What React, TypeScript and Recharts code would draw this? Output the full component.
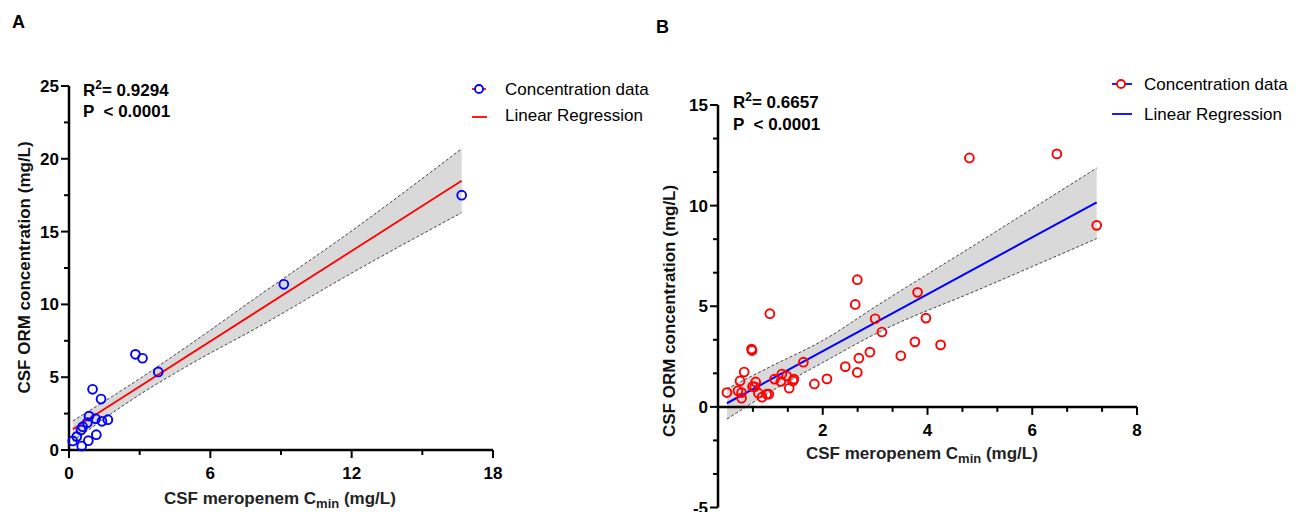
import React from 'react';
import { ComposedChart, XAxis, YAxis, Scatter, Line, Area, ReferenceLine } from 'recharts';

const FONT = '"Liberation Sans", Arial, Helvetica, sans-serif';

// ---------- Panel A data ----------
const aX = [0.16, 0.33, 0.54, 0.51, 0.58, 0.78, 0.85, 0.82, 1.0, 1.13, 1.16, 1.36, 1.4, 1.65, 2.82, 3.12, 3.79, 9.12, 16.67];
const aY = [0.62, 0.92, 0.27, 1.37, 1.6, 1.88, 2.33, 0.64, 4.17, 2.15, 1.05, 3.5, 1.97, 2.08, 6.57, 6.3, 5.36, 11.38, 17.5];
const aFitX = [0.16, 16.67];
const aFitY = [1.42, 18.5];
const aBandX = [0.16, 3, 5, 8.1, 12, 16.67];
const aBandLo = [0.6, 3.8, 5.75, 8.5, 12.15, 16.3];
const aBandHi = [2.0, 4.9, 7.1, 10.65, 15.05, 20.7];
const aXTicks = [0, 3, 6, 9, 12, 15, 18];
const aYTicks = [0, 2.5, 5, 7.5, 10, 12.5, 15, 17.5, 20, 22.5, 25];

// ---------- Panel B data ----------
const bX = [0.17, 0.38, 0.42, 0.45, 0.45, 0.5, 0.64, 0.65, 0.66, 0.72, 0.7, 0.77, 0.84, 0.93, 0.97, 0.99, 1.08, 1.22, 1.2, 1.31, 1.36, 1.43, 1.45, 1.63, 1.84, 2.08, 2.43, 2.62, 2.66, 2.66, 2.69, 2.9, 3.0, 3.13, 3.49, 3.81, 3.76, 3.97, 4.25, 4.8, 6.47, 7.23];
const bY = [0.71, 0.8, 1.29, 0.71, 0.43, 1.73, 2.87, 2.8, 1.01, 1.24, 1.0, 0.68, 0.48, 0.63, 0.63, 4.63, 1.38, 1.63, 1.26, 1.54, 0.93, 1.29, 1.38, 2.22, 1.14, 1.39, 2.0, 5.09, 6.32, 1.71, 2.42, 2.72, 4.38, 3.72, 2.54, 5.69, 3.23, 4.41, 3.08, 12.37, 12.57, 9.02];
const bFitX = [0.17, 7.23];
const bFitY = [0.18, 10.16];
const bBandX = [0.17, 1, 2, 3.06, 5, 6, 7.23];
const bBandLo = [-0.61, 0.75, 2.2, 3.7, 5.85, 6.97, 8.36];
const bBandHi = [0.9, 2.0, 3.3, 5.07, 8.21, 9.85, 11.87];
const bXTicks = [2 / 3, 4 / 3, 2, 8 / 3, 10 / 3, 4, 14 / 3, 16 / 3, 6, 20 / 3, 22 / 3, 8];
const bYTicks = [-5, -10 / 3, -5 / 3, 0, 5 / 3, 10 / 3, 5, 20 / 3, 25 / 3, 10, 35 / 3, 40 / 3, 15];

const pts = (xs: number[], ys: number[]) => xs.map((x, i) => ({ x, y: ys[i] }));
const band = (xs: number[], lo: number[], hi: number[]) =>
  xs.map((x, i) => ({ x, lo: lo[i], hi: hi[i], range: [lo[i], hi[i]] }));

const aPts = pts(aX, aY);
const aFit = pts(aFitX, aFitY);
const aBand = band(aBandX, aBandLo, aBandHi);
const bPts = pts(bX, bY);
const bFit = pts(bFitX, bFitY);
const bBand = band(bBandX, bBandLo, bBandHi);

const isMult = (v: number, m: number) => Math.abs(v / m - Math.round(v / m)) < 1e-6;

const makeYTick = (m: number) => (props: any) => {
  const { x, y, payload } = props;
  const v = payload.value;
  const major = isMult(v, m);
  return (
    <g>
      <line x1={x - (major ? 8 : 5)} x2={x} y1={y} y2={y} stroke="#000" strokeWidth={2} />
      {major && (
        <text x={x - 10} y={y} dy={6} textAnchor="end" fontFamily={FONT} fontWeight="bold" fontSize={17} fill="#000">
          {Math.round(v)}
        </text>
      )}
    </g>
  );
};

const makeXTick = (m: number, shift: number) => (props: any) => {
  const { x, payload } = props;
  const y = props.y - shift;
  const v = payload.value;
  const major = isMult(v, m);
  return (
    <g>
      <line x1={x} x2={x} y1={y} y2={y + (major ? 8 : 5)} stroke="#000" strokeWidth={2} />
      {major && (
        <text x={x} y={y + 29} textAnchor="middle" fontFamily={FONT} fontWeight="bold" fontSize={17} fill="#000">
          {Math.round(v)}
        </text>
      )}
    </g>
  );
};

const circle = (color: string) => (props: any) => (
  <circle cx={props.cx} cy={props.cy} r={4.4} fill="none" stroke={color} strokeWidth={1.9} />
);

// Layout of panel B (to draw the x axis at y = 0)
const B_TOP = 105;
const B_H = 512;
const B_BOTTOM_MARGIN = 3.5;
const B_XAXIS_H = 1;
const B_PLOT_H = B_H - B_TOP - B_BOTTOM_MARGIN - B_XAXIS_H;
const B_SHIFT = ((0 - -5) / (15 - -5)) * B_PLOT_H;

export default function App() {
  return (
    <div style={{ position: 'absolute', left: 0, top: 0, width: 1299, height: 512, overflow: 'hidden', background: '#fff' }}>
      {/* Panel A */}
      <div style={{ position: 'absolute', left: 0, top: 0 }}>
        <ComposedChart width={525} height={512} margin={{ top: 86, right: 32, bottom: 32, left: 29 }}>
          <XAxis
            type="number"
            dataKey="x"
            domain={[0, 18]}
            ticks={aXTicks}
            interval={0}
            height={30}
            tickSize={0}
            tickMargin={0}
            tickLine={false}
            axisLine={{ stroke: '#000', strokeWidth: 2.5 }}
            tick={makeXTick(6, 0)}
          />
          <YAxis
            type="number"
            domain={[0, 25]}
            ticks={aYTicks}
            interval={0}
            width={40}
            tickSize={0}
            tickMargin={0}
            tickLine={false}
            axisLine={{ stroke: '#000', strokeWidth: 2.5 }}
            tick={makeYTick(5)}
          />
          <Area data={aBand} dataKey="range" type="monotone" stroke="none" fill="#d9d9d9" fillOpacity={1} isAnimationActive={false} />
          <Line data={aBand} dataKey="hi" type="monotone" stroke="#333" strokeWidth={0.9} strokeDasharray="3 2" dot={false} isAnimationActive={false} />
          <Line data={aBand} dataKey="lo" type="monotone" stroke="#333" strokeWidth={0.9} strokeDasharray="3 2" dot={false} isAnimationActive={false} />
          <Line data={aFit} dataKey="y" type="linear" stroke="#ff0000" strokeWidth={1.8} dot={false} isAnimationActive={false} />
          <Scatter data={aPts} dataKey="y" shape={circle('#0000ff')} isAnimationActive={false} />
        </ComposedChart>
      </div>

      {/* Panel B */}
      <div style={{ position: 'absolute', left: 640, top: 0 }}>
        <ComposedChart width={510} height={B_H} margin={{ top: B_TOP, right: 13, bottom: B_BOTTOM_MARGIN, left: 38 }}>
          <XAxis
            type="number"
            dataKey="x"
            domain={[0, 8]}
            ticks={bXTicks}
            interval={0}
            height={B_XAXIS_H}
            tickSize={0}
            tickMargin={0}
            tickLine={false}
            axisLine={false}
            tick={makeXTick(2, B_SHIFT)}
          />
          <YAxis
            type="number"
            domain={[-5, 15]}
            ticks={bYTicks}
            interval={0}
            width={40}
            tickSize={0}
            tickMargin={0}
            tickLine={false}
            axisLine={{ stroke: '#000', strokeWidth: 2.5 }}
            tick={makeYTick(5)}
          />
          <Area data={bBand} dataKey="range" type="monotone" stroke="none" fill="#d9d9d9" fillOpacity={1} isAnimationActive={false} />
          <Line data={bBand} dataKey="hi" type="monotone" stroke="#333" strokeWidth={0.9} strokeDasharray="3 2" dot={false} isAnimationActive={false} />
          <Line data={bBand} dataKey="lo" type="monotone" stroke="#333" strokeWidth={0.9} strokeDasharray="3 2" dot={false} isAnimationActive={false} />
          <ReferenceLine y={0} stroke="#000" strokeWidth={2.5} ifOverflow="visible" />
          <Line data={bFit} dataKey="y" type="linear" stroke="#0000ff" strokeWidth={2} dot={false} isAnimationActive={false} />
          <Scatter data={bPts} dataKey="y" shape={circle('#ff0000')} isAnimationActive={false} />
        </ComposedChart>
      </div>

      {/* Text overlay */}
      <svg width={1299} height={512} style={{ position: 'absolute', left: 0, top: 0, pointerEvents: 'none' }} fontFamily={FONT}>
        <text x={12} y={28} fontWeight="bold" fontSize={18}>A</text>
        <text x={656} y={33} fontWeight="bold" fontSize={18}>B</text>

        {/* annotations */}
        <text x={83} y={96} fontWeight="bold" fontSize={17}>
          R<tspan dy={-7} fontSize={12}>2</tspan><tspan dy={7}>= 0.9294</tspan>
        </text>
        <text x={83} y={117} fontWeight="bold" fontSize={17} style={{ whiteSpace: 'pre' }}>P  {'<'} 0.0001</text>
        <text x={733} y={108} fontWeight="bold" fontSize={17}>
          R<tspan dy={-7} fontSize={12}>2</tspan><tspan dy={7}>= 0.6657</tspan>
        </text>
        <text x={733} y={130} fontWeight="bold" fontSize={17} style={{ whiteSpace: 'pre' }}>P  {'<'} 0.0001</text>

        {/* axis titles */}
        <text transform="translate(29.5,393.5) rotate(-90)" fontWeight="bold" fontSize={17} fill="#111">CSF ORM concentration (mg/L)</text>
        <text transform="translate(675,437) rotate(-90)" fontWeight="bold" fontSize={17} fill="#111">CSF ORM concentration (mg/L)</text>
        <text x={164} y={504} fontWeight="bold" fontSize={17} fill="#222">
          CSF meropenem C<tspan dy={4} fontSize={13}>min</tspan><tspan dy={-4}> (mg/L)</tspan>
        </text>
        <text x={806} y={459} fontWeight="bold" fontSize={17} fill="#222">
          CSF meropenem C<tspan dy={4} fontSize={13}>min</tspan><tspan dy={-4}> (mg/L)</tspan>
        </text>

        {/* legend A */}
        <line x1={472} x2={486} y1={89} y2={89} stroke="#ff0000" strokeWidth={1.8} />
        <circle cx={479} cy={89} r={4} fill="#fff" stroke="#0000ff" strokeWidth={1.8} />
        <text x={505} y={95} fontSize={17}>Concentration data</text>
        <line x1={472} x2={487} y1={117} y2={117} stroke="#ff0000" strokeWidth={1.8} />
        <text x={505} y={121} fontSize={17}>Linear Regression</text>

        {/* legend B */}
        <line x1={1112} x2={1132} y1={84} y2={84} stroke="#0000ff" strokeWidth={1.8} />
        <circle cx={1121} cy={84} r={4} fill="#fff" stroke="#ff0000" strokeWidth={1.8} />
        <text x={1144} y={90} fontSize={17}>Concentration data</text>
        <line x1={1112} x2={1132} y1={114} y2={114} stroke="#0000ff" strokeWidth={1.8} />
        <text x={1144} y={120} fontSize={17}>Linear Regression</text>
      </svg>
    </div>
  );
}
